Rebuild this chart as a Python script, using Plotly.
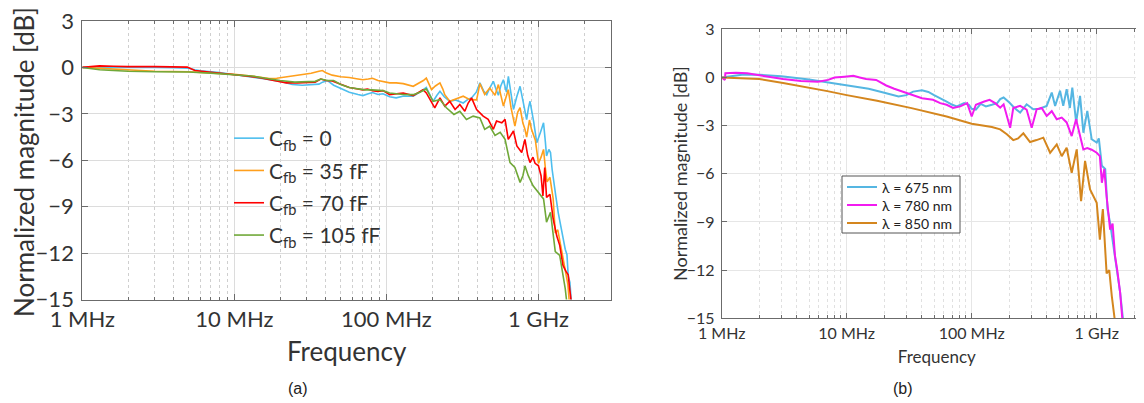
import plotly.graph_objects as go

# ---------------- data (frequency in MHz, magnitude in dB) ----------------
# Panel (a)
f_c0 = [1, 1.2, 1.5, 2, 3, 4, 5, 5.5, 6, 8, 10, 13, 16, 20, 24, 28, 32, 36, 38, 41, 45, 50, 57, 65, 70, 76, 81, 88, 95,
        105, 116, 130, 150, 166, 183, 195, 203, 215, 225, 240, 261, 285, 320, 345, 363, 390, 412, 435, 457, 480, 505,
        525, 545, 565, 588, 605, 616, 634, 660, 685, 720, 757, 800, 836, 860, 880, 930, 975, 1030, 1080, 1110, 1130,
        1170, 1200, 1230, 1250, 1300, 1350, 1420, 1500, 1540, 1570, 1610, 1650]
db_c0 = [0, 0.0, 0.03, 0.02, 0.0, -0.02, -0.05, -0.15, -0.22, -0.33, -0.45, -0.6, -0.75, -0.9, -1.1, -1.15, -1.1, -1.08,
         -0.95, -0.85, -1.15, -1.35, -1.6, -1.75, -1.82, -1.7, -1.62, -1.75, -1.7,
         -1.9, -1.97, -1.85, -1.86, -1.6, -1.3, -1.85, -2.19, -1.8, -1.54, -1.9, -2.19, -2.1, -2.3, -2.05, -1.97, -1.6,
         -1.0, -1.5, -1.76, -1.3, -0.9,
         -1.4, -1.8, -1.2, -0.8, -1.3, -1.6, -0.58, -1.6, -2.72, -1.9, -1.22, -2.4, -3.37, -2.6, -2.19, -3.5, -4.87,
         -4.2, -3.58, -4.8, -5.72,
         -5.3, -5.5, -6.6, -7.2, -8.3, -9.4, -10.6, -11.75, -12.1, -13.5, -13.9, -15.3]

f_c35 = [1, 1.5, 2, 3, 5, 7, 10, 14, 17, 19, 22, 27, 32, 36, 38, 40, 44, 50, 57, 65, 70, 76, 81, 88, 95,
         105, 116, 129, 150, 166, 175, 183, 190, 198, 210, 225, 235, 242, 261, 289, 320, 354, 392, 412, 443, 478,
         518, 545, 570, 588, 633, 660, 700, 730, 757, 790, 815, 836, 873, 900, 954, 1000, 1040, 1080, 1110, 1140,
         1190, 1250, 1290, 1340, 1400, 1450, 1500, 1560, 1600]
db_c35 = [0, -0.1, -0.18, -0.25, -0.28, -0.35, -0.45, -0.6, -0.72, -0.7, -0.6, -0.5, -0.38, -0.25, -0.2, -0.35, -0.5,
          -0.6, -0.65, -0.75, -0.8, -0.75, -0.7, -0.85, -0.9,
          -1.0, -1.0, -1.05, -1.22, -1.0, -0.85, -0.69, -1.1, -1.44, -1.2, -1.0, -1.4, -1.76, -2.19, -2.04, -1.86,
          -2.08, -2.1, -1.05, -1.75, -1.33,
          -1.8, -1.11, -1.9, -2.5, -1.44, -2.6, -3.8, -2.9, -2.6, -3.6, -4.0, -4.5, -3.4, -4.0, -4.7, -6.2, -5.8,
          -5.3, -6.5, -7.4,
          -7.1, -8.5, -10.7, -10.5, -11.5, -12.4, -13.0, -14.0, -15.3]

f_c70 = [1, 1.3, 1.6, 2, 3, 4, 4.9, 5.5, 7, 9, 12, 15, 18, 22, 26, 30, 34, 37, 40, 44, 50, 57, 65, 70, 75, 81, 88, 95,
         105, 116, 129, 150, 174, 183, 198, 208, 225, 242, 261, 283, 304, 328, 345, 363, 392, 433, 467, 505, 530,
         574, 603, 633, 685, 721, 776, 815, 850, 880, 920, 950, 1000, 1040, 1070, 1100, 1130, 1190, 1250, 1320,
         1380, 1450, 1520, 1570, 1600, 1650]
db_c70 = [0, 0.1, 0.08, 0.05, 0.05, 0.05, 0.02, -0.2, -0.3, -0.4, -0.55, -0.68, -0.85, -1.0, -1.0, -0.98, -0.95, -0.75,
          -0.85, -0.88, -1.1, -1.3, -1.4, -1.45, -1.4, -1.5, -1.55, -1.5,
          -1.76, -1.7, -1.65, -1.82, -1.44, -1.65, -2.29, -2.61, -1.97, -2.5, -2.19, -2.72, -2.4, -2.83, -2.3, -1.97,
          -2.72, -3.15, -3.36, -4.0, -3.47,
          -3.58, -3.36, -4.65, -4.11, -5.08, -5.5, -4.65, -5.7, -6.15, -5.8, -6.2, -6.36, -7.0, -8.3, -6.47, -8.4,
          -8.2, -9.8, -10.9,
          -11.5, -12.8, -13.2, -13.4, -14.2, -15.3]

f_c105 = [1, 1.3, 1.6, 2, 3, 4, 5, 7, 10, 13, 16, 20, 25, 30, 34, 37, 41, 45, 50, 57, 65, 72, 80, 88, 95,
          105, 116, 129, 150, 166, 183, 203, 225, 248, 278, 304, 336, 372, 412, 443, 478, 518, 560, 603, 650, 700,
          757, 790, 815, 857, 922, 1000, 1080, 1130, 1200, 1290, 1380, 1500, 1540]
db_c105 = [0, -0.15, -0.2, -0.25, -0.28, -0.28, -0.3, -0.37, -0.45, -0.55, -0.7, -0.85, -0.95, -0.93, -0.9, -0.75,
           -0.85, -0.85, -1.1, -1.3, -1.4, -1.45, -1.45, -1.5, -1.5,
           -1.65, -1.7, -1.75, -1.76, -1.6, -1.39, -2.19, -2.08, -2.61, -3.04, -2.83, -3.36, -3.15, -3.26, -4.0, -3.8,
           -4.4, -4.2, -4.65, -6.15, -6.47,
           -7.43, -7.0, -6.36, -7.0, -7.65, -8.08, -8.5, -10.0, -9.36, -11.9, -12.15, -14.3, -15.3]

# Panel (b)
f_675 = [1, 1.2, 1.5, 2, 3, 5, 7, 9, 12, 15, 20, 26, 30, 34, 40, 45, 50, 57, 63, 70, 76, 87, 95, 100, 108, 118, 130,
         145, 160, 169, 180, 200, 220, 244, 275, 311, 350, 398, 437, 465, 509, 540, 575, 610, 638, 685, 736, 782,
         841, 912, 1000, 1040, 1100, 1170, 1220, 1280, 1360, 1450, 1540, 1630]
db_675 = [0, 0.08, 0.18, 0.17, 0.08, -0.12, -0.3, -0.4, -0.55, -0.7, -0.95, -1.19, -1.1, -0.88, -0.8, -0.9, -1.1, -1.3,
          -1.5, -1.7, -1.8, -1.6, -1.7, -1.95, -2.0, -1.65, -1.8,
          -1.7, -1.6, -1.35, -1.25, -1.56, -1.9, -2.19, -1.67, -1.98, -1.95, -1.77, -0.94, -1.77, -0.83, -1.77, -0.73,
          -1.9, -0.63, -2.8, -1.15, -3.44,
          -2.08, -3.85, -4.06, -3.8, -5.5, -5.7, -8.2, -9.06, -10.5, -12.2, -13.4, -15.2]

f_780 = [1, 1.06, 1.07, 1.3, 1.6, 2.3, 3.1, 4.3, 5.9, 7.1, 8, 9.6, 11.3, 12.7, 14.3, 17.2, 20.7, 24, 28, 33, 40, 49,
         56, 63, 71, 81, 92, 100, 108, 126, 139, 154, 169, 180, 203, 215, 244, 275, 302, 331, 363, 398, 437, 479,
         525, 575, 631, 684, 736, 782, 841, 912, 1000, 1060, 1100, 1150, 1200, 1280, 1340, 1400, 1460, 1540, 1610]
db_780 = [0, -0.15, 0.26, 0.3, 0.26, 0.05, -0.1, -0.22, -0.26, -0.15, 0.0, 0.05, 0.1, 0.0, -0.1, -0.15, -0.5, -0.7,
          -0.88, -1.08, -1.29, -1.39,
          -1.6, -1.7, -1.9, -1.8, -1.6, -2.43, -1.7, -1.5, -1.39, -1.6, -1.88, -1.67, -3.13, -1.9, -1.77, -2.0, -3.13,
          -1.98, -1.9, -2.4, -2.1, -2.6,
          -2.5, -2.8, -3.65, -2.6, -3.75, -4.48, -4.4, -4.5, -4.69, -4.9, -6.56, -5.7, -7.4, -9.48, -9.1, -11.1,
          -12.0, -13.4, -15.2]

f_850 = [1, 1.5, 2, 3.1, 4.9, 7, 10, 17.5, 33, 63, 100, 145, 169, 191, 215, 235, 259, 293, 330, 374, 424, 479, 525,
         575, 631, 692, 750, 807, 885, 940, 1000, 1060, 1120, 1200, 1260, 1320, 1400]
db_850 = [0, -0.05, -0.1, -0.35, -0.62, -0.85, -1.1, -1.45, -1.91, -2.43, -2.88, -3.09, -3.23, -3.54, -3.9, -3.8,
          -3.48, -4.02, -3.9, -3.75, -4.69, -4.17, -4.9,
          -4.375, -5.94, -4.48, -7.7, -5.2, -6.98, -7.4, -7.8, -10.1, -8.2, -12.2, -12.0, -13.6, -15.2]

names_a = ["C<sub>fb</sub> = 0", "C<sub>fb</sub> = 35 fF", "C<sub>fb</sub> = 70 fF", "C<sub>fb</sub> = 105 fF"]
names_b = ["λ = 675 nm", "λ = 780 nm", "λ = 850 nm"]
x_tickvals = [1e6, 1e7, 1e8, 1e9]
x_ticktext = ["1 MHz", "10 MHz", "100 MHz", "1 GHz"]
y_tickvals = [3, 0, -3, -6, -9, -12, -15]

# ---------------- figure ----------------
W, H = 1144, 403
OFF = 8  # page body margin of the HTML document
colors_a = ["#4DBEEE", "#FF9F1C", "#FF0000", "#70A838"]
colors_b = ["#55B6E2", "#F21BF0", "#D4861E"]


def px(x):
    return (x - OFF) / W


def py(y):
    return (H - (y - OFF)) / H


fig = go.Figure()
for i, (f, d, n, c) in enumerate(zip([f_c0, f_c35, f_c70, f_c105], [db_c0, db_c35, db_c70, db_c105], names_a,
                                     colors_a)):
    fig.add_trace(go.Scatter(x=[v * 1e6 for v in f], y=d, name=n, mode="lines", legendgroup="a%d" % i,
                             line=dict(color=c, width=1.6), xaxis="x", yaxis="y", legend="legend"))
legend_b = ["legend2", "legend3", "legend4"]
for f, d, n, c, lg in zip([f_675, f_780, f_850], [db_675, db_780, db_850], names_b, colors_b, legend_b):
    fig.add_trace(go.Scatter(x=[v * 1e6 for v in f], y=d, name=n, mode="lines",
                             line=dict(color=c, width=2), xaxis="x2", yaxis="y2", legend=lg))

minor_vals = [m * 10 ** e for e in range(6, 10) for m in range(2, 10)]

FONT = "Lato, 'Open Sans', sans-serif"
axcol = "#6b6b6b"

common_x = dict(type="log", tickvals=x_tickvals, ticktext=x_ticktext, showline=True, linecolor=axcol,
                linewidth=1, ticks="inside", tickcolor=axcol, showgrid=True, zeroline=False, automargin=False,
                ticklabeloverflow="allow",
                minor=dict(tickvals=minor_vals, showgrid=True, griddash="dot", ticks="inside", ticklen=3,
                           tickcolor=axcol))
common_y = dict(range=[-15, 3], tickvals=y_tickvals, showline=True, linecolor=axcol, linewidth=1,
                ticks="inside", tickcolor=axcol, showgrid=True, zeroline=False, automargin=False,
                ticklabeloverflow="allow")

leg_b_common = dict(xanchor="left", yanchor="middle", bgcolor="rgba(0,0,0,0)", borderwidth=0,
                    font=dict(size=14, color="#222"), itemwidth=30)

fig.update_layout(
    width=W, height=H, margin=dict(l=0, r=0, t=0, b=0),
    paper_bgcolor="white", plot_bgcolor="white",
    font=dict(family=FONT, color="#333333"),
    xaxis=dict(common_x, domain=[px(82.3), px(611)], range=[6, 9.4771], anchor="y", mirror="ticks",
               ticklen=6, gridcolor="#dcdcdc", tickfont=dict(size=22, color="#333"),
               title=dict(text="Frequency", font=dict(size=26, color="#333"), standoff=11)),
    yaxis=dict(common_y, domain=[py(299.5), py(21)], anchor="x", mirror="ticks", ticklen=6,
               gridcolor="#dcdcdc", tickfont=dict(size=22, color="#333"), ticklabelstandoff=3),
    xaxis2=dict(common_x, domain=[px(721.7), 1], range=[6, 6 + (W + OFF - 721.7) / 125], anchor="y2",
                mirror="ticks", ticklen=5, gridcolor="#e6e6e6", tickfont=dict(size=16, color="#333"),
                title=dict(text="Frequency", font=dict(size=17, color="#333"), standoff=10)),
    yaxis2=dict(common_y, domain=[py(318.3), py(29.3)], anchor="x2", mirror=False, ticklen=5,
                gridcolor="#e6e6e6", tickfont=dict(size=16, color="#333"), ticklabelstandoff=3),
    legend=dict(x=px(229), y=py(118), xanchor="left", yanchor="top", bgcolor="rgba(0,0,0,0)",
                borderwidth=0, font=dict(size=21, color="#333"), tracegroupgap=2, itemwidth=30),
    legend2=dict(leg_b_common, x=px(842), y=py(187.5)),
    legend3=dict(leg_b_common, x=px(842), y=py(205.5)),
    legend4=dict(leg_b_common, x=px(842), y=py(223.5)),
    showlegend=True,
    shapes=[dict(type="rect", xref="paper", yref="paper", x0=px(842), x1=px(960), y0=py(233), y1=py(176),
                 line=dict(color="#555", width=1), fillcolor="white", layer="above")],
    annotations=[
        dict(text="Normalized magnitude [dB]", x=px(24), y=py(162), xref="paper", yref="paper",
             xanchor="center", yanchor="middle", showarrow=False, textangle=-90,
             font=dict(size=26, color="#333")),
        dict(text="Normalized magnitude [dB]", x=px(680), y=py(174), xref="paper", yref="paper",
             xanchor="center", yanchor="middle", showarrow=False, textangle=-90,
             font=dict(size=18, color="#333")),
        dict(text="(a)", x=px(298), y=py(388), xref="paper", yref="paper", showarrow=False,
             xanchor="center", yanchor="middle",
             font=dict(family="Liberation Sans, Arial", size=16, color="#222")),
        dict(text="(b)", x=px(903), y=py(388), xref="paper", yref="paper", showarrow=False,
             xanchor="center", yanchor="middle",
             font=dict(family="Liberation Sans, Arial", size=16, color="#222")),
    ],
)
fig.update_xaxes(minor_gridcolor="#cfcfcf", selector=dict(anchor="y"))
fig.update_xaxes(minor_gridcolor="#e0e0e0", selector=dict(anchor="y2"))

fig.write_html("out.html")
